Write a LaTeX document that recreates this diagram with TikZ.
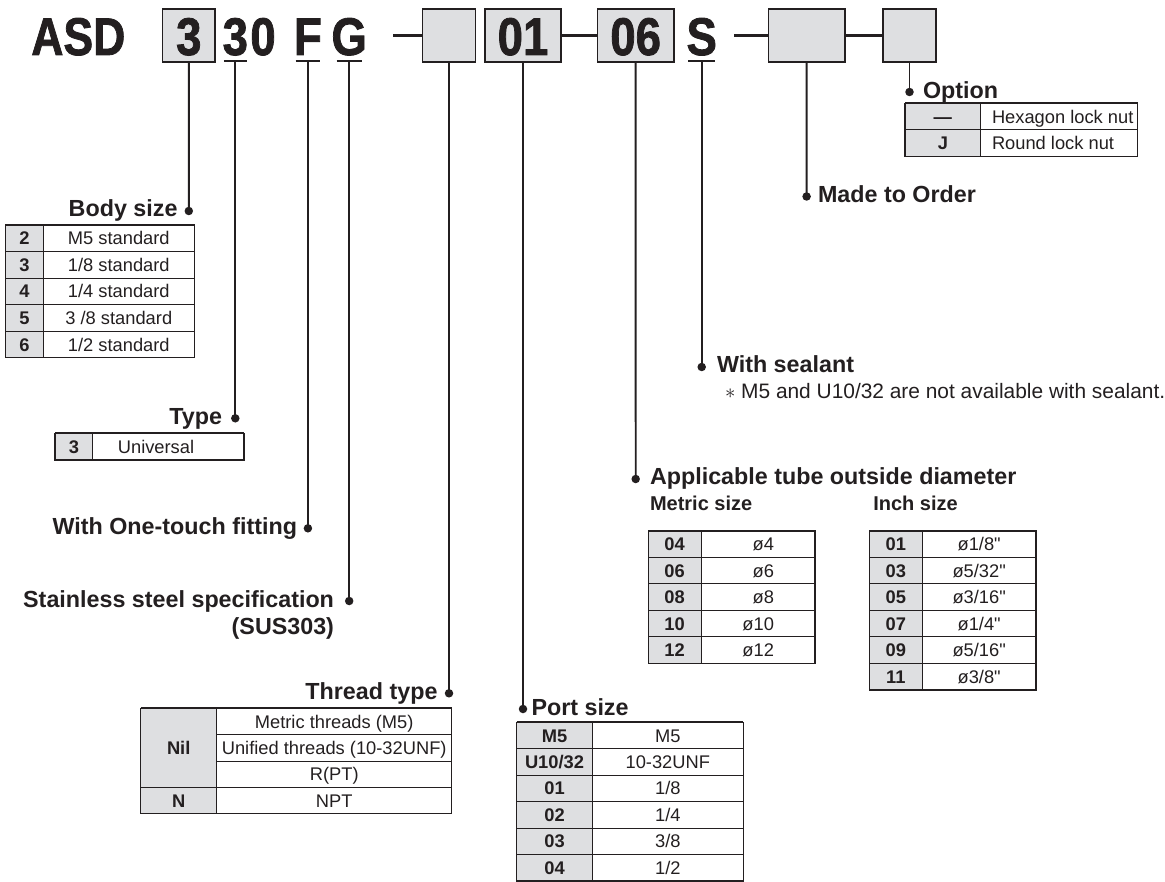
\documentclass[tikz,border=0pt]{standalone}
\usepackage{fontspec}
\setmainfont{Liberation Sans}[Ligatures=TeXOff]
\newfontfamily\hdrfont{Liberation Sans}[BoldFeatures={FakeBold=1.6}]
\definecolor{ink}{HTML}{231F20}
\definecolor{boxgray}{HTML}{DEDFE1}
\tikzset{
 every node/.style={inner sep=0pt, outer sep=0pt},
 big/.style={font=\hdrfont\fontsize{53}{60}\selectfont\bfseries, anchor=base, text=ink},
 hbox/.style={draw=ink, line width=1.5pt, fill=boxgray, anchor=north west},
 lead/.style={draw=ink, line width=1.9pt},
 hline/.style={draw=ink, line width=3pt},
 uline/.style={draw=ink, line width=2pt},
 dotn/.style={circle, fill=ink, minimum size=8.5pt},
 head/.style={font=\fontsize{23.3}{28}\selectfont\bfseries, text=ink},
 subhead/.style={font=\fontsize{20}{24}\selectfont\bfseries, text=ink, anchor=base west},
 body/.style={font=\fontsize{18.3}{22}\selectfont, text=ink},
 keycell/.style={draw=ink, line width=1pt, fill=boxgray, font=\fontsize{18.3}{22}\selectfont\bfseries, text=ink, text height=13.1pt, text depth=0pt},
 valcell/.style={draw=ink, line width=1pt, font=\fontsize{18.3}{22}\selectfont, text=ink, text height=13.1pt, text depth=0pt},
 tframe/.style={draw=ink, line width=1.4pt},
 ttop/.style={draw=ink, line width=2.2pt},
}
% #1 name, #2 x0, #3 xdiv, #4 x1, #5 ytop, #6 row height, #7 rows, #8 list, #9 value options
\newcommand\spectab[9]{%
 \foreach \kk/\vv [count=\ii] in {#8}{%
   \pgfmathsetmacro\yc{#5+(\ii-0.5)*#6}%
   \node[keycell, minimum width={#3-#2}, minimum height=#6] (#1k\ii) at ({(#2+#3)/2},\yc) {\kk};
   \node[valcell, minimum width={#4-#3}, minimum height=#6, #9] (#1v\ii) at ({(#3+#4)/2},\yc) {\vv};
 }
 \draw[tframe] (#2,#5) rectangle (#4,{#5+#7*#6});
 \draw[ttop] (#2,#5) -- (#4,#5);
}
\begin{document}
\begin{tikzpicture}[x=1pt,y=-1pt]
\path[use as bounding box] (0,0) rectangle (1165,882);

% ---------- header ----------
\node[big] (tASD) at (78.3,55) {\scalebox{0.84}[1]{ASD}};
\node[hbox, minimum width=52.3pt, minimum height=53pt] (b1) at (162.7,9) {};
\node[big] (c1) at (188.8,55) {\scalebox{0.86}[1]{3}};
\node[big] (c2) at (235.3,55) {\scalebox{0.86}[1]{3}};
\node[big] (c3) at (263,55) {\scalebox{0.86}[1]{0}};
\node[big] (c4) at (307.9,55) {\scalebox{0.86}[1]{F}};
\node[big] (c5) at (349.2,55) {\scalebox{0.86}[1]{G}};
\coordinate (u2) at (235.3,61.5);
\coordinate (u4) at (307.9,61.5);
\coordinate (u5) at (349.2,61.5);
\draw[uline] ([xshift=-11.4pt]u2) -- ([xshift=11.4pt]u2);
\draw[uline] ([xshift=-12.2pt]u4) -- ([xshift=12.2pt]u4);
\draw[uline] ([xshift=-12.5pt]u5) -- ([xshift=12.5pt]u5);

\coordinate (d1) at (393.3,35.5);
\node[hbox, minimum width=53pt, minimum height=53pt] (b2) at (422.5,9) {};
\draw[hline] (d1) -- (b2.west);
\node[hbox, minimum width=76pt, minimum height=53pt] (b3) at (485,9) {};
\node[big] (c6) at (b3.center |- 0,55) {\scalebox{0.86}[1]{01}};
\node[hbox, minimum width=76.7pt, minimum height=53pt] (b4) at (597.3,9) {};
\node[big] (c7) at (b4.center |- 0,55) {\scalebox{0.86}[1]{06}};
\draw[hline] (b3.east) -- (b4.west);
\node[big] (c8) at (701.7,55) {\scalebox{0.86}[1]{S}};
\coordinate (u8) at (701.7,61.5);
\draw[uline] ([xshift=-13.4pt]u8) -- ([xshift=13.4pt]u8);
\coordinate (d2) at (734,35.5);
\node[hbox, minimum width=76.7pt, minimum height=53pt] (b5) at (768.3,9) {};
\draw[hline] (d2) -- (b5.west);
\node[hbox, minimum width=53pt, minimum height=53pt] (b6) at (883,9) {};
\draw[hline] (b5.east) -- (b6.west);

% ---------- dots ----------
\node[dotn] (dBody) at (188.8,211) {};
\node[dotn] (dType) at (235.3,418.3) {};
\node[dotn] (dOne)  at (307.9,528.3) {};
\node[dotn] (dSS)   at (349.2,601) {};
\node[dotn] (dThr)  at (449,693.3) {};
\node[dotn] (dPort) at (523,709) {};
\node[dotn] (dTube) at (635.7,479) {};
\node[dotn] (dSeal) at (701.7,367) {};
\node[dotn] (dMTO)  at (806.6,196.5) {};
\node[dotn] (dOpt)  at (909.5,92) {};

% ---------- leaders ----------
\draw[lead] (b1.south) -- (dBody.center);
\draw[lead] (u2) -- (dType.center);
\draw[lead] (u4) -- (dOne.center);
\draw[lead] (u5) -- (dSS.center);
\draw[lead] (b2.south) -- (dThr.center);
\draw[lead] (b3.south) -- (dPort.center);
\draw[lead] (b4.south) -- (dTube.center);
\draw[lead] (u8) -- (dSeal.center);
\draw[lead] (b5.south) -- (dMTO.center);
\draw[lead] (b6.south) -- (dOpt.center);

% ---------- headings ----------
\node[head, anchor=base east] (hBody) at (177.5,217) {Body size};
\node[head, anchor=base east] (hType) at (222,424.5) {Type};
\node[head, anchor=base east] (hOne) at (297,534.5) {With One-touch fitting};
\node[head, anchor=base east] (hSS) at (334,607.5) {Stainless steel specification};
\node[head, anchor=base east] (hSS2) at (334,634.5) {(SUS303)};
\node[head, anchor=base east] (hThr) at (437.5,699.5) {Thread type};
\node[head, anchor=base west] (hPort) at (531.5,715) {Port size};
\node[head, anchor=base west] (hTube) at (650,485) {Applicable tube outside diameter};
\node[subhead] (hMet) at (650,510.5) {Metric size};
\node[subhead] (hInch) at (873.3,510.5) {Inch size};
\node[head, anchor=base west] (hSeal) at (717,373) {With sealant};
\node[font=\fontsize{20.9}{24}\selectfont, text=ink, anchor=base west] (note) at (725,399) {$\ast$ M5 and U10/32 are not available with sealant.};
\node[head, anchor=base west] (hMTO) at (818,203) {Made to Order};
\node[head, anchor=base west] (hOpt) at (923,98.5) {Option};

% ---------- tables ----------
\spectab{bs}{5.7}{43.3}{194.3}{225}{26.55}{5}{{2}/{M5 standard},{3}/{1/8 standard},{4}/{1/4 standard},{5}/{3 /8 standard},{6}/{1/2 standard}}{}

% type table
\node[keycell, minimum width=37.7pt, minimum height=26.7pt] (tyk) at (73.85,446.65) {3};
\node[valcell, minimum width=151.3pt, minimum height=26.7pt] (tyv) at (168.35,446.65) {};
\node[body, text height=13.1pt, text depth=0pt] (tyt) at (156,446.65) {Universal};
\draw[tframe] (55,433.3) rectangle (244,460);
\draw[ttop] (55,433.3) -- (244,433.3);

% thread type table
\node[keycell, minimum width=76pt, minimum height=79.05pt] (thk1) at (178.7,747.825) {Nil};
\node[keycell, minimum width=76pt, minimum height=26.35pt] (thk2) at (178.7,800.525) {N};
\node[valcell, minimum width=235pt, minimum height=26.35pt] (thv1) at (334.2,721.475) {Metric threads (M5)};
\node[valcell, minimum width=235pt, minimum height=26.35pt] (thv2) at (334.2,747.825) {Unified threads (10-32UNF)};
\node[valcell, minimum width=235pt, minimum height=26.35pt] (thv3) at (334.2,774.175) {R(PT)};
\node[valcell, minimum width=235pt, minimum height=26.35pt] (thv4) at (334.2,800.525) {NPT};
\draw[tframe] (140.7,708.3) rectangle (451.7,813.7);
\draw[ttop] (140.7,708.3) -- (451.7,708.3);

\spectab{ps}{516.7}{592.3}{743.3}{722.3}{26.45}{6}{{M5}/{M5},{U10/32}/{10-32UNF},{01}/{1/8},{02}/{1/4},{03}/{3/8},{04}/{1/2}}{}

\spectab{mt}{648.3}{701}{815}{530.7}{26.52}{5}{{04}/{ø4},{06}/{ø6},{08}/{ø8},{10}/{ø10},{12}/{ø12}}{text width=32pt, align=right}

\spectab{in}{869.3}{922.3}{1036}{530.7}{26.55}{6}{{01}/{ø1/8"},{03}/{ø5/32"},{05}/{ø3/16"},{07}/{ø1/4"},{09}/{ø5/16"},{11}/{ø3/8"}}{}

% option table (values set left-aligned below)
\spectab{op}{905}{980.7}{1137.7}{103.3}{26.7}{2}{{—}/{},{J}/{}}{}
\node[body, anchor=west, text height=13.1pt, text depth=0pt] (opt1) at (992,116.65) {Hexagon lock nut};
\node[body, anchor=west, text height=13.1pt, text depth=0pt] (opt2) at (992,143.35) {Round lock nut};

\end{tikzpicture}
\end{document}
